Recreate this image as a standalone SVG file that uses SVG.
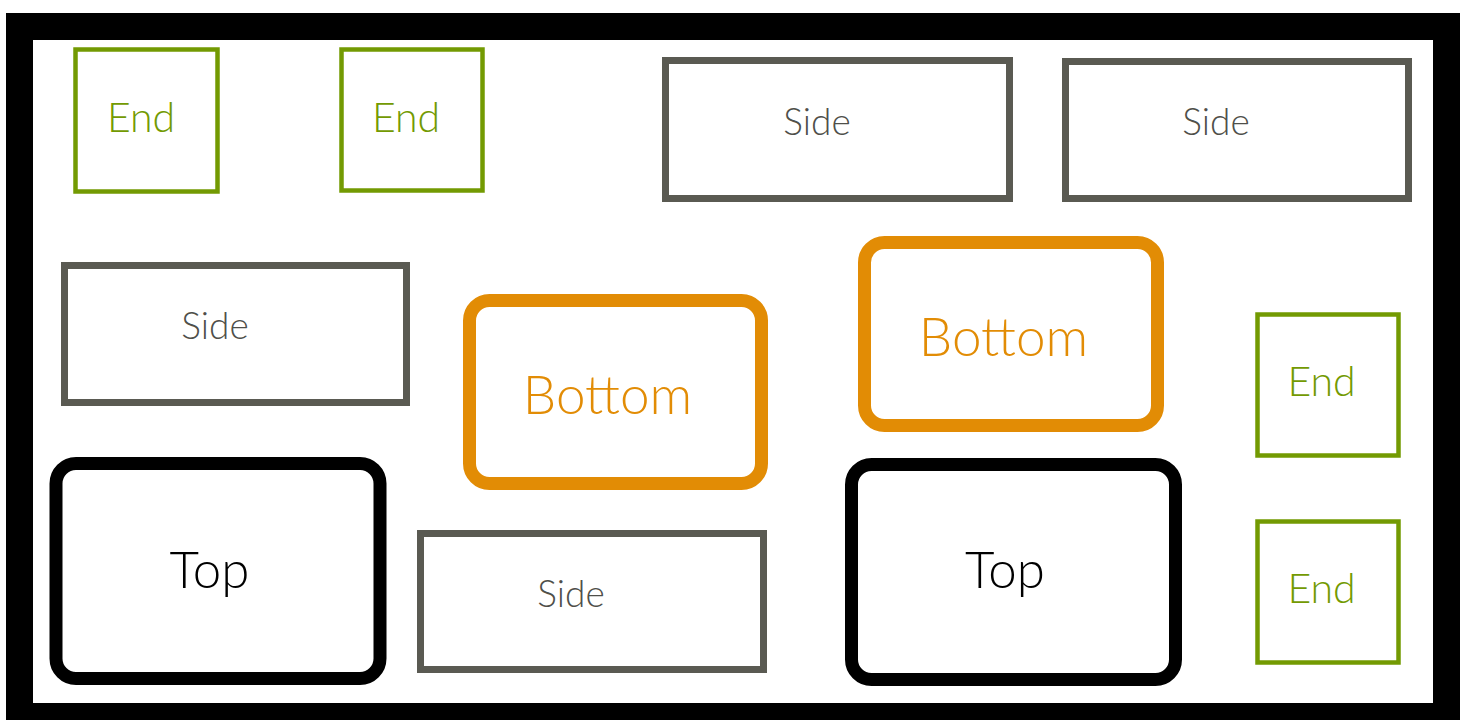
<svg xmlns="http://www.w3.org/2000/svg" width="1465" height="720" viewBox="0 0 1465 720">
<style>
text{font-family:Lato,"Noto Sans","DejaVu Sans",sans-serif;text-anchor:middle;font-weight:300}
.end rect{fill:#fff;stroke:#739A02;stroke-width:4.5}
.end text{fill:#739A02;font-size:41px}
.side rect{fill:#fff;stroke:#5A5A52;stroke-width:7}
.side text{fill:#4F4F4A;font-size:37px}
.bottom rect{fill:#fff;stroke:#E28C05;stroke-width:13}
.bottom text{fill:#E28C05;font-size:53px}
.top rect{fill:#fff;stroke:#000;stroke-width:13}
.top text{fill:#000;font-size:51px}
</style>
<rect width="1465" height="720" fill="#fff"/>
<rect id="frame" x="19.5" y="26.5" width="1427" height="690" fill="none" stroke="#000" stroke-width="27"/>
<g id="end1" class="end"><rect x="75.5" y="49.5" width="142" height="142"/><text x="141" y="132">End</text></g>
<g id="end2" class="end"><rect x="341.5" y="49.5" width="141" height="141"/><text x="406" y="132">End</text></g>
<g id="end3" class="end"><rect x="1257.5" y="314.5" width="141" height="141"/><text x="1321.5" y="396">End</text></g>
<g id="end4" class="end"><rect x="1257.5" y="521.5" width="141" height="141"/><text x="1321.5" y="603">End</text></g>
<g id="side1" class="side"><rect x="665.5" y="60.5" width="344" height="138"/><text x="817" y="135">Side</text></g>
<g id="side2" class="side"><rect x="1065.5" y="61.5" width="343" height="137"/><text x="1216" y="135">Side</text></g>
<g id="side3" class="side"><rect x="64.5" y="265.5" width="342" height="137"/><text x="215" y="339">Side</text></g>
<g id="side4" class="side"><rect x="420.5" y="533.5" width="343" height="136"/><text x="571" y="607">Side</text></g>
<g id="bottom1" class="bottom"><rect x="469.5" y="300.5" width="292" height="183" rx="20"/><text x="607.5" y="414">Bottom</text></g>
<g id="bottom2" class="bottom"><rect x="864.5" y="242.5" width="293" height="183" rx="20"/><text x="1003.5" y="356">Bottom</text></g>
<g id="top1" class="top"><rect x="56" y="463.5" width="324" height="215" rx="20"/><text x="209.5" y="588">Top</text></g>
<g id="top2" class="top"><rect x="851.5" y="464.5" width="324" height="215" rx="20"/><text x="1005" y="588">Top</text></g>
</svg>
